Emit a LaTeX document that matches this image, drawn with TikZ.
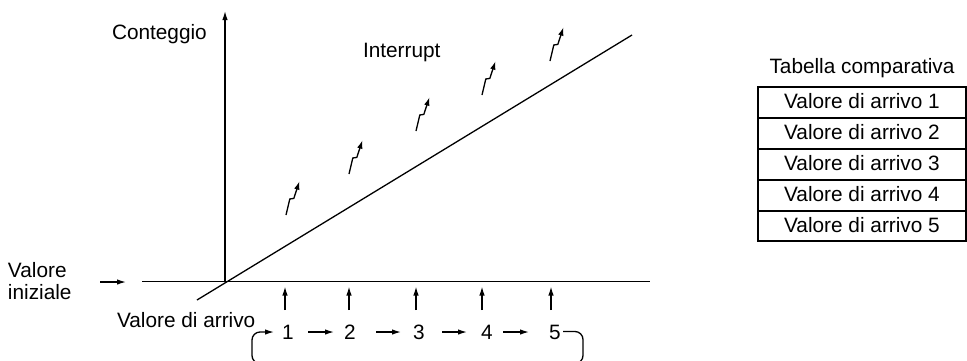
\documentclass[tikz,border=0pt]{standalone}
\usepackage{fontspec}
\setmainfont{Liberation Sans}
\usetikzlibrary{arrows.meta}
\begin{document}
\begin{tikzpicture}[x=1pt,y=-1pt,
  every node/.style={inner sep=0pt,outer sep=0pt,font=\fontsize{20.8}{25}\selectfont},
  thin line/.style={line width=1.3pt},
  arr/.style={thin line,-{Latex[length=9pt,width=5.5pt]}},
  zig/.style={thin line,-{Latex[length=8.5pt,width=5.5pt]},line join=miter},
  tbl/.style={line width=2pt}]
\clip (0,0) rectangle (967,360);
% axes
\coordinate (O) at (225,281.5);
\coordinate (ytop) at (225,11);
\coordinate (xl) at (142,281.5);
\coordinate (xr) at (650,281.5);
\coordinate (dl) at (197,300);
\coordinate (dr) at (632,35);
\draw[arr] (O) -- (ytop);
\draw[thin line] (xl) -- (xr);
\draw[thin line] (dl) -- (dr);
% texts
\node[anchor=base west] (cont) at (112,39.5) {Conteggio};
\node[anchor=base west] (intr) at (363,57.5) {Interrupt};
\node[anchor=base west] (vi1) at (8,277) {Valore};
\node[anchor=base west] (vi2) at (8,299) {iniziale};
\node[anchor=base west] (va) at (117,327) {Valore di arrivo};
% initial value arrow
\coordinate (ia) at (100,282);
\coordinate (ib) at (126,282);
\draw[arr] (ia) -- (ib);
% interrupt zigzags
\foreach \i/\x/\y in {1/286/215,2/349/174,3/416/131,4/482/95,5/550/61}{
  \coordinate (z\i) at (\x,\y);
  \draw[zig] (z\i) -- ++(3.8,-16) -- ++(4,-0.6) -- ++(5.7,-17.2);
}
% numbers and upward arrows
\foreach \i/\x/\ax in {1/288/285,2/350/349,3/419/416,4/487/482,5/555/551}{
  \node[anchor=base] (n\i) at (\x,339) {\i};
  \coordinate (ub\i) at (\ax,310);
  \coordinate (ut\i) at (\ax,286.5);
  \draw[arr] (ub\i) -- (ut\i);
}
% horizontal arrows between numbers
\foreach \a/\b in {308/334,376/401,442/467,503/529}{
  \coordinate (ha) at (\a,332);
  \coordinate (hb) at (\b,332);
  \draw[arr] (ha) -- (hb);
}
% loop bracket
\coordinate (ls) at (563,331.5);
\coordinate (le) at (274,332);
\draw[arr,rounded corners=8pt] (ls) -- (583,331.5) -- (583,363.5) -- (252,363.5) -- (252,332) -- (le);
% table
\node (tt) at (862,73.5) [anchor=base] {Tabella comparativa};
\foreach \i/\t/\b in {1/87/118,2/118/148.5,3/148.5/179.5,4/179.5/210.5,5/210.5/241}{
  \draw[tbl] (758,\t) rectangle (966,\b);
}
\foreach \i in {1,...,5}{
  \node[anchor=base] (r\i) at (862,{108.4+31.05*(\i-1)}) {Valore di arrivo \i};
}
\end{tikzpicture}
\end{document}
